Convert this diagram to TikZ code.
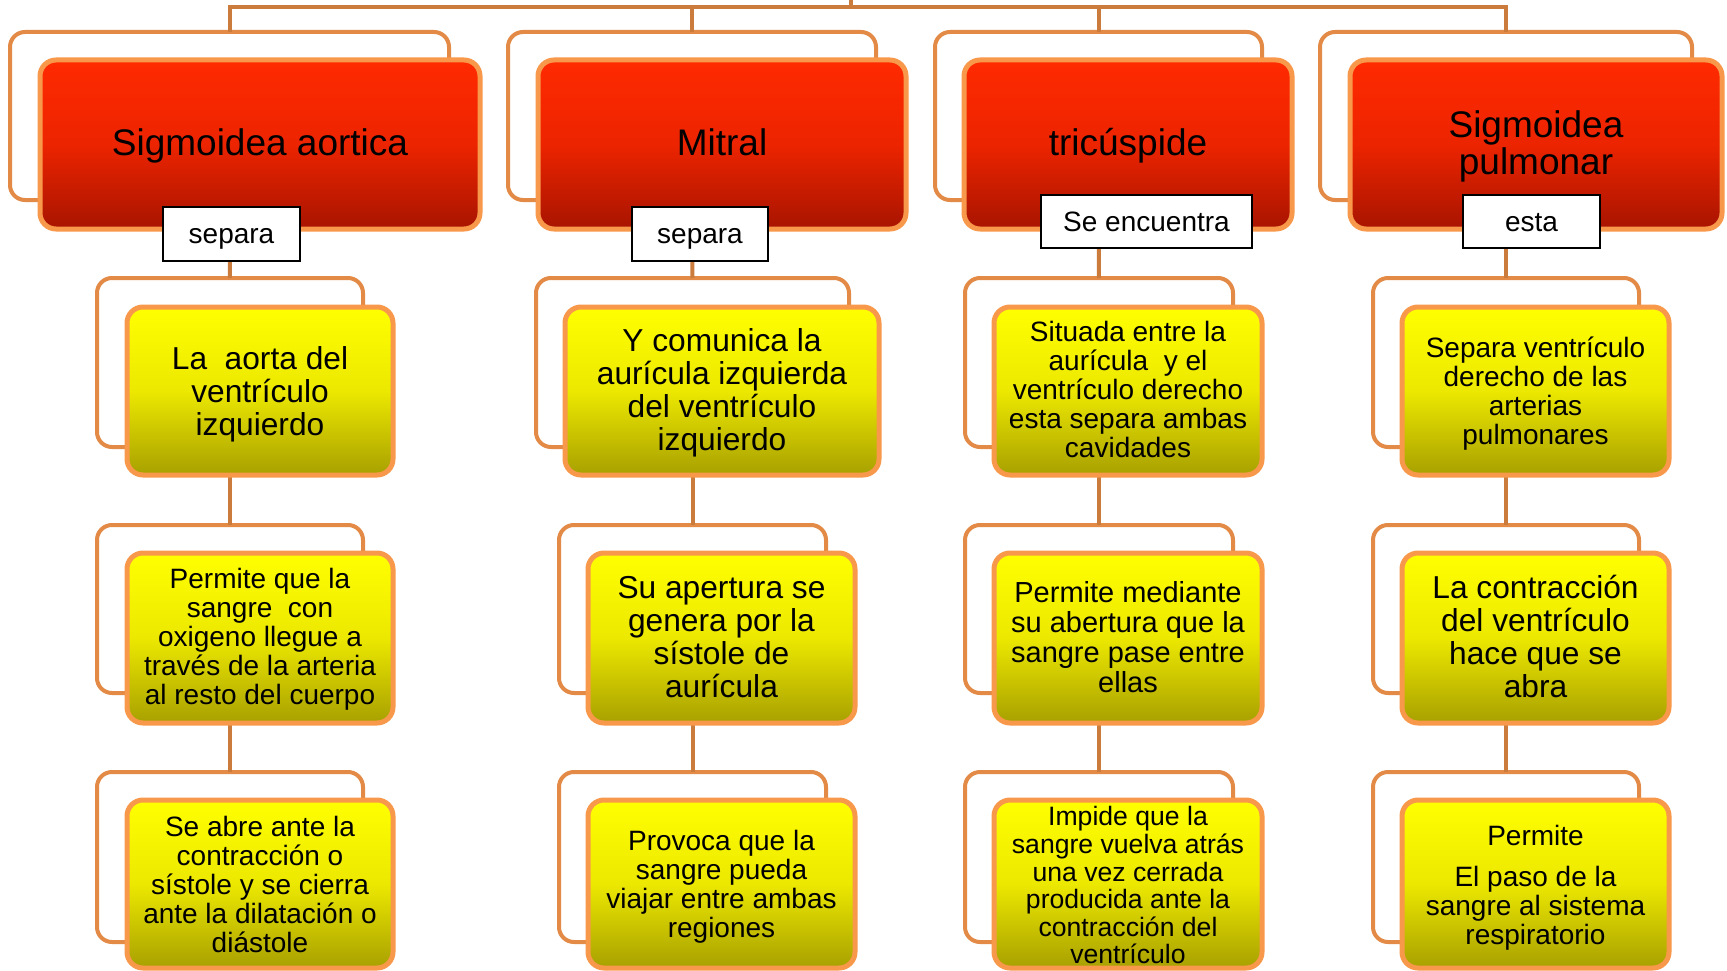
\documentclass[tikz,border=0pt]{standalone}
\usepackage{fontspec}
\setmainfont{Liberation Sans}
\definecolor{connc}{RGB}{203,124,60}
\definecolor{backc}{RGB}{226,138,70}
\definecolor{frontc}{RGB}{248,152,74}
\definecolor{redtop}{RGB}{255,42,0}
\definecolor{redmid}{RGB}{236,36,0}
\definecolor{redbot}{RGB}{168,20,0}
\definecolor{yeltop}{RGB}{255,255,0}
\definecolor{yelmid}{RGB}{236,232,0}
\definecolor{yelbot}{RGB}{168,160,0}
\newcommand\topst[1][0pt]{\rule{0pt}{\dimexpr 1.05em+#1\relax}}
\newcommand\botst[1][0pt]{\rule[\dimexpr -0.45em-#1\relax]{0pt}{\dimexpr 0.45em+#1\relax}}
\newcommand\labst{\rule[-0.32em]{0pt}{1.32em}}
\begin{document}
\begin{tikzpicture}[x=1pt,y=-1pt,
  conn/.style={draw=connc, line width=4pt},
  sz/.style 2 args={minimum width=#1pt, minimum height=#2pt},
  backbox/.style={draw=backc, line width=4pt, fill=white, rounded corners=15pt, inner sep=0pt, outer sep=0pt, anchor=north west},
  headbox/.style={draw=frontc, line width=5pt, rounded corners=16pt, top color=redtop, bottom color=redbot, middle color=redmid, inner sep=0pt, outer sep=0pt, anchor=north west, align=center, font=\fontsize{37}{37}\selectfont},
  childbox/.style={draw=frontc, line width=5pt, rounded corners=16pt, top color=yeltop, bottom color=yelbot, middle color=yelmid, inner sep=0pt, outer sep=0pt, anchor=north west, align=center},
  big/.style={font=\fontsize{31.7}{33}\selectfont},
  small/.style={font=\fontsize{28}{29}\selectfont},
  lab/.style={draw=black, line width=1.2pt, fill=white, inner sep=0pt, outer sep=0pt, anchor=north west, align=center, font=\fontsize{28}{29}\selectfont}
]
\useasboundingbox (0,0) rectangle (1727,971);
\fill[white] (0,0) rectangle (1727,971);

% back frames
\node[backbox, sz={439}{168}] (hb1) at (10,32) {};
\node[backbox, sz={368}{168}] (hb2) at (508,32) {};
\node[backbox, sz={327}{168}] (hb3) at (935,32) {};
\node[backbox, sz={372}{168}] (hb4) at (1320,32) {};

\node[backbox, sz={266}{169}] (cb11) at (97,278) {};
\node[backbox, sz={266}{168}] (cb12) at (97,525) {};
\node[backbox, sz={266}{170}] (cb13) at (97,772) {};
\node[backbox, sz={313}{169}] (cb21) at (536,278) {};
\node[backbox, sz={267}{168}] (cb22) at (559,525) {};
\node[backbox, sz={267}{170}] (cb23) at (559,772) {};
\node[backbox, sz={268}{169}] (cb31) at (965,278) {};
\node[backbox, sz={268}{168}] (cb32) at (965,525) {};
\node[backbox, sz={268}{170}] (cb33) at (965,772) {};
\node[backbox, sz={266}{169}] (cb41) at (1373,278) {};
\node[backbox, sz={266}{168}] (cb42) at (1373,525) {};
\node[backbox, sz={266}{170}] (cb43) at (1373,772) {};

% connectors
\coordinate (top) at (851,0);
\coordinate (bar) at (851,7);
\draw[conn] (top) -- (bar);
\draw[conn] (hb1.north) |- (bar) -| (hb4.north);
\draw[conn] (hb2.north) -- (hb2.north |- bar);
\draw[conn] (hb3.north) -- (hb3.north |- bar);
\draw[conn] (hb1.south) -- (cb11.north);
\draw[conn] (cb11.south) -- (cb12.north);
\draw[conn] (cb12.south) -- (cb13.north);
\draw[conn] (hb2.south) -- (cb21.north);
\draw[conn] (cb21.south) -- (cb22.north);
\draw[conn] (cb22.south) -- (cb23.north);
\draw[conn] (hb3.south) -- (cb31.north);
\draw[conn] (cb31.south) -- (cb32.north);
\draw[conn] (cb32.south) -- (cb33.north);
\draw[conn] (hb4.south) -- (cb41.north);
\draw[conn] (cb41.south) -- (cb42.north);
\draw[conn] (cb42.south) -- (cb43.north);

% header boxes
\node[headbox, sz={440}{169}] (hf1) at (40,60) {\topst Sigmoidea aortica\botst};
\node[headbox, sz={368}{169}] (hf2) at (538,60) {\topst Mitral\botst};
\node[headbox, sz={328}{169}] (hf3) at (964,60) {\topst tricúspide\botst};
\node[headbox, sz={372}{169}] (hf4) at (1350,60) {\topst Sigmoidea\\pulmonar\botst};

% child boxes
\node[childbox, big, sz={266}{168}] (c11) at (127,307) {\topst[3pt]La\ \ aorta del\\ventrículo\\izquierdo\botst};
\node[childbox, small, sz={266}{170}] (c12) at (127,553) {\topst[1pt]Permite que la\\sangre\ \ con\\oxigeno llegue a\\través de la arteria\\al resto del cuerpo\botst};
\node[childbox, small, sz={266}{168}] (c13) at (127,800) {\topst[4pt]Se abre ante la\\contracción o\\sístole y se cierra\\ante la dilatación o\\diástole\botst};

\node[childbox, big, sz={314}{168}] (c21) at (565,307) {\topst Y comunica la\\aurícula izquierda\\del ventrículo\\izquierdo\botst};
\node[childbox, big, sz={267}{170}] (c22) at (588,553) {\topst[1pt]Su apertura se\\genera por la\\sístole de\\aurícula\botst};
\node[childbox, small, sz={267}{168}] (c23) at (588,800) {\topst[3pt]Provoca que la\\sangre pueda\\viajar entre ambas\\regiones\botst};

\node[childbox, small, sz={268}{168}] (c31) at (994,307) {\topst[1pt]Situada entre la\\aurícula\ \ y el\\ventrículo derecho\\esta separa ambas\\cavidades\botst};
\node[childbox, font=\fontsize{29}{30}\selectfont, sz={268}{170}] (c32) at (994,553) {\topst[1pt]Permite mediante\\su abertura que la\\sangre pase entre\\ellas\botst};
\node[childbox, font=\fontsize{26.6}{27.6}\selectfont, sz={268}{168}] (c33) at (994,800) {\topst[-2pt]Impide que la\\sangre vuelva atrás\\una vez cerrada\\producida ante la\\contracción del\\ventrículo\botst[-8pt]};

\node[childbox, small, sz={267}{168}] (c41) at (1402,307) {\topst[4pt]Separa ventrículo\\derecho de las\\arterias\\pulmonares\botst};
\node[childbox, big, sz={267}{170}] (c42) at (1402,553) {\topst[1pt]La contracción\\del ventrículo\\hace que se\\abra\botst};
\node[childbox, small, sz={267}{168}] (c43) at (1402,800) {\topst[6pt]Permite\\[12pt]El paso de la\\sangre al sistema\\respiratorio\botst};

% labels
\node[lab, sz={137}{54}] (lab1) at (163,207) {\labst separa};
\node[lab, sz={136}{54}] (lab2) at (632,207) {\labst separa};
\node[lab, sz={211}{53}] (lab3) at (1041,195) {\labst Se encuentra};
\node[lab, sz={137}{53}] (lab4) at (1463,195) {\labst esta};
\end{tikzpicture}
\end{document}
